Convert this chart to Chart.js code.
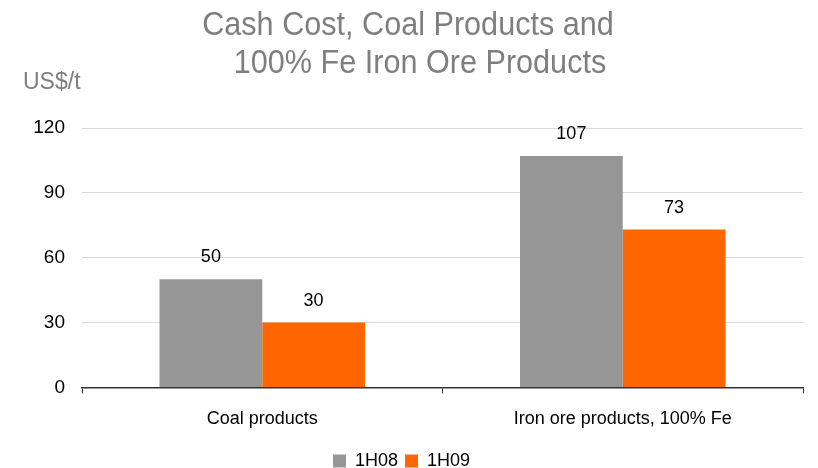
<!DOCTYPE html>
<html>
<head>
<meta charset="utf-8">
<script src="https://cdn.jsdelivr.net/npm/chart.js@4/dist/chart.umd.min.js"></script>
<style>
  html, body { margin: 0; padding: 0; background: #fff; }
  #wrap { width: 818px; height: 468px; }
</style>
</head>
<body>
<div id="wrap"><canvas id="bar-chart"></canvas></div>
<script>
var categories = ["Coal products", "Iron ore products, 100% Fe"];
var values1H08 = [50, 107];
var values1H09 = [30, 73];
var yTicks = [0, 30, 60, 90, 120];
var titleLines = ["Cash Cost, Coal Products and", "100% Fe Iron Ore Products"];
var unitLabel = "US$/t";

var textFont = '"Liberation Sans", Arial, sans-serif';

// narrow text: squeeze horizontally around a centre point
function narrowText(ctx, text, cx, baseline, sx) {
    ctx.save();
    ctx.translate(cx, baseline);
    ctx.scale(sx, 1);
    ctx.fillText(text, 0, 0);
    ctx.restore();
}

// title, unit label and the value labels above each bar
var extras = {
    id: 'extras',
    afterDatasetsDraw: function(chart) {
        var ctx = chart.ctx;
        ctx.save();
        ctx.font = '18px ' + textFont;
        ctx.fillStyle = '#000';
        ctx.textAlign = 'center';
        ctx.textBaseline = 'alphabetic';
        chart.data.datasets.forEach(function(ds, i) {
            chart.getDatasetMeta(i).data.forEach(function(bar, j) {
                ctx.fillText(ds.data[j], bar.x, bar.y - 17);
            });
        });

        ctx.fillStyle = '#7f7f7f';
        ctx.font = '34px ' + textFont;
        narrowText(ctx, titleLines[0], 408, 35, 0.9);
        narrowText(ctx, titleLines[1], 420, 73, 0.9);

        ctx.font = '23px ' + textFont;
        ctx.textAlign = 'left';
        ctx.fillText(unitLabel, 23, 89);
        ctx.restore();
    }
};

var x = document.getElementById("bar-chart");
var y = new Chart(x, {
    type: 'bar',
    data: {
        labels: categories,
        datasets: [{
            label: "1H08",
            backgroundColor: "#969696",
            data: values1H08
        }, {
            label: "1H09",
            backgroundColor: "#ff6600",
            data: values1H09
        }]
    },
    options: {
        responsive: true,
        maintainAspectRatio: false,
        animation: false,
        layout: { padding: { left: 0, right: 15, top: 128, bottom: -12 } },
        datasets: { bar: { categoryPercentage: 0.57, barPercentage: 1.0 } },
        plugins: {
            legend: {
                display: true,
                position: 'bottom',
                labels: {
                    boxWidth: 13,
                    boxHeight: 13,
                    padding: 7,
                    color: '#000',
                    font: { size: 18, family: textFont }
                }
            },
            title: { display: false },
            tooltip: { enabled: false }
        },
        scales: {
            x: {
                grid: { display: true, drawOnChartArea: false, drawTicks: true, tickLength: 6, color: '#333' },
                border: { display: true, color: '#333', width: 1.5 },
                ticks: {
                    color: '#000',
                    padding: 15,
                    font: { size: 18, family: textFont }
                }
            },
            y: {
                min: 0,
                max: 120,
                afterBuildTicks: function(axis) {
                    axis.ticks = yTicks.map(function(v) { return { value: v }; });
                },
                afterFit: function(axis) { axis.width = 82; },
                grid: { color: '#d9d9d9', drawTicks: false },
                border: { display: false },
                ticks: {
                    color: '#000',
                    padding: 17,
                    font: { size: 19, family: textFont }
                }
            }
        }
    },
    plugins: [extras]
});
</script>
</body>
</html>
